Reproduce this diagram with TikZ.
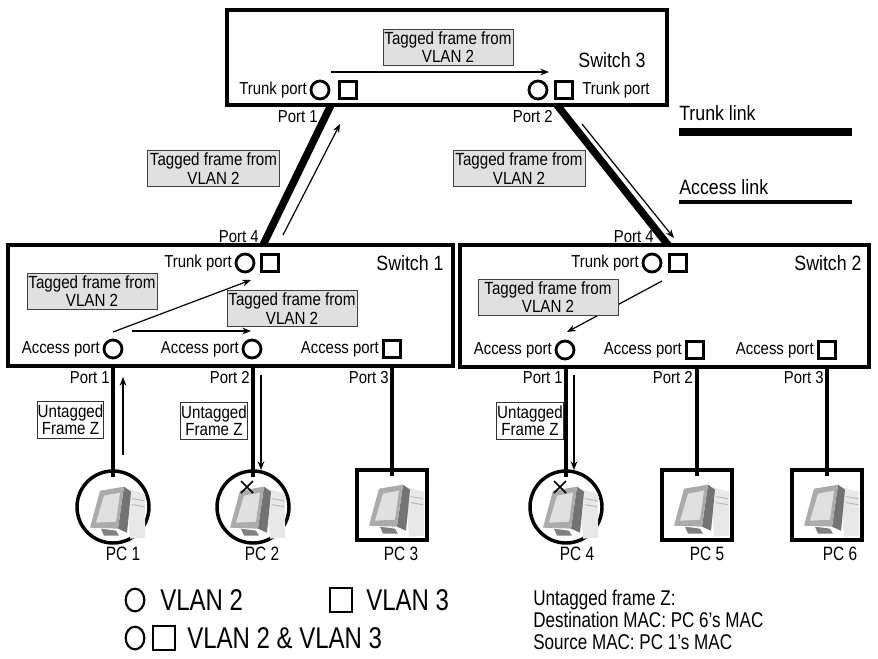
\documentclass[tikz,border=0pt]{standalone}
\usepackage{fontspec}
\setmainfont[FakeStretch=0.86]{Liberation Sans}
\newfontfamily\narrowfont[FakeStretch=0.8]{Liberation Sans}
\usetikzlibrary{arrows.meta,shapes.geometric}

\tikzset{
  swbox/.style={draw, rectangle, line width=2.5pt, inner sep=0pt},
  vtwo/.style={draw, circle, line width=2.1pt, minimum size=13.5pt, inner sep=0pt},
  vthree/.style={draw, rectangle, line width=2.1pt, minimum size=13pt, inner sep=0pt},
  lbl/.style={inner sep=0pt, font=\fontsize{13}{14}\selectfont},
  swname/.style={inner sep=0pt, font=\fontsize{15.5}{17}\selectfont},
  tagbox/.style={draw=black!75, fill=black!12, line width=0.7pt, align=center,
    minimum width=97.5pt, minimum height=27pt, inner sep=0pt,
    font=\fontsize{13.2}{13.7}\selectfont},
  untagbox/.style={draw=black!80, fill=white, line width=0.7pt, align=center,
    minimum width=50pt, minimum height=28pt, inner sep=0pt,
    font=\fontsize{13.2}{12.8}\selectfont},
  trunk/.style={line width=5.6pt},
  access/.style={line width=2.6pt},
  flow/.style={line width=0.9pt, -{Stealth[length=6.5pt,width=5pt]}},
  pcround/.style={draw, circle, line width=2.6pt, minimum size=54pt, inner sep=0pt},
  pcsquare/.style={draw, rectangle, line width=2.6pt, minimum size=52.5pt, inner sep=0pt},
  pcname/.style={inner sep=0pt, font=\narrowfont\fontsize{14.5}{16}\selectfont},
  legendfont/.style={inner sep=0pt, font=\narrowfont\fontsize{22.5}{24}\selectfont},
  pcicon/.pic={
    % tower behind the monitor
    \fill[black!9] (13,-21) -- (32,-16) -- (32,28) -- (17,29) -- cycle;
    \draw[black!28, line width=0.7pt] (19,-11) -- (31,-9) (19,-5) -- (31,-3);
    % monitor side
    \fill[black!55] (11,-23) -- (18,-18) -- (14,23) -- (5,19) -- cycle;
    % monitor bezel and screen
    \fill[black!33] (-13,-19) -- (11,-23) -- (5,19) -- (-23,18) -- cycle;
    \fill[black!12] (-9,-14) -- (7,-17) -- (3,12) -- (-17,13) -- cycle;
    % stand
    \fill[black!50] (-12,19) -- (3,21) -- (6,26) -- (-9,26) -- cycle;
  },
  xmark/.pic={
    \draw[line width=1.1pt] (-6,-6) -- (6,6) (6,-6) -- (-6,6);
  }
}

\begin{document}
\begin{tikzpicture}[x=0.75pt,y=-0.75pt]
\useasboundingbox (0,0) rectangle (878,658);

% ---------- switches ----------
\node[swbox, minimum width=330pt, minimum height=71.25pt] (sw3) at (447,57.5) {};
\node[swbox, minimum width=333.75pt, minimum height=90.75pt] (sw1) at (230.5,305.5) {};
\node[swbox, minimum width=306.75pt, minimum height=91.5pt] (sw2) at (664.5,306) {};

\node[swname] (sw3name) at (612,60) {Switch 3};
\node[swname] (sw1name) at (410,263) {Switch 1};
\node[swname] (sw2name) at (828,263) {Switch 2};

% ---------- switch 3 ports ----------
\node[vtwo]   (s3c1) at (320,90) {};
\node[vthree] (s3s1) at (348,90) {};
\node[vtwo]   (s3c2) at (538,90) {};
\node[vthree] (s3s2) at (564,90) {};
\node[lbl, anchor=east] (s3tp1) at (307,90) {Trunk port};
\node[lbl, anchor=west] (s3tp2) at (582,90) {Trunk port};
\node[lbl, anchor=east] (s3p1) at (318,117) {Port 1};
\node[lbl, anchor=east] (s3p2) at (553,117) {Port 2};

\coordinate (s3a) at (331,72);
\coordinate (s3b) at (549,72);
\draw[flow] (s3a) -- (s3b);
\node[tagbox] (tag3) at (448,47) {Tagged frame from\\VLAN 2};

% ---------- switch 1 ports ----------
\node[vtwo]   (s1tc) at (245,263) {};
\node[vthree] (s1ts) at (270,263) {};
\node[lbl, anchor=east] (s1tp) at (232,263) {Trunk port};
\node[lbl, anchor=east] (s1p4) at (259,237) {Port 4};

\node[vtwo]   (s1a1) at (113,349) {};
\node[vtwo]   (s1a2) at (252,349) {};
\node[vthree] (s1a3) at (392,349) {};
\node[lbl, anchor=east] (s1al1) at (100,349) {Access port};
\node[lbl, anchor=east] (s1al2) at (239,349) {Access port};
\node[lbl, anchor=east] (s1al3) at (379,349) {Access port};

\coordinate (f1a) at (113,332);
\coordinate (f1b) at (251,280);
\coordinate (f2a) at (132,331);
\coordinate (f2b) at (251,331);
\draw[flow] (f1a) -- (f1b);
\draw[flow] (f2a) -- (f2b);
\node[tagbox] (tag1a) at (92,291) {Tagged frame from\\VLAN 2};
\node[tagbox] (tag1b) at (292,308.5) {Tagged frame from\\VLAN 2};

% ---------- switch 2 ports ----------
\node[vtwo]   (s2tc) at (652,263) {};
\node[vthree] (s2ts) at (678,263) {};
\node[lbl, anchor=east] (s2tp) at (639,263) {Trunk port};
\node[lbl, anchor=east] (s2p4) at (654,237) {Port 4};

\node[vtwo]   (s2a1) at (565,350) {};
\node[vthree] (s2a2) at (695,350) {};
\node[vthree] (s2a3) at (827,350) {};
\node[lbl, anchor=east] (s2al1) at (552,350) {Access port};
\node[lbl, anchor=east] (s2al2) at (682,350) {Access port};
\node[lbl, anchor=east] (s2al3) at (814,350) {Access port};

\coordinate (f3a) at (662,281);
\coordinate (f3b) at (567,332);
\draw[flow] (f3a) -- (f3b);
\node[tagbox, minimum width=105pt] (tag2) at (548,297) {Tagged frame from\\VLAN 2};

% ---------- trunk links ----------
\coordinate (t1top) at (331,105);
\coordinate (t1bot) at (263,245);
\coordinate (t2top) at (557,105);
\coordinate (t2bot) at (668,245);
\draw[trunk] (t1top) -- (t1bot);
\draw[trunk] (t2top) -- (t2bot);

\coordinate (ft1a) at (283,235);
\coordinate (ft1b) at (340,124);
\coordinate (ft2a) at (582,124);
\coordinate (ft2b) at (674,238);
\draw[flow] (ft1a) -- (ft1b);
\draw[flow] (ft2a) -- (ft2b);
\node[tagbox, minimum width=99pt] (tagl) at (213.5,168.5) {Tagged frame from\\VLAN 2};
\node[tagbox, minimum width=99pt] (tagr) at (519,168.5) {Tagged frame from\\VLAN 2};

% ---------- PCs ----------
\node[pcround]  (pc1) at (113,507) {};
\node[pcround]  (pc2) at (253,507) {};
\node[pcsquare] (pc3) at (392,505) {};
\node[pcround]  (pc4) at (566,507) {};
\node[pcsquare] (pc5) at (697,505) {};
\node[pcsquare] (pc6) at (827,505) {};
\foreach \p in {pc1,pc2,pc3,pc4,pc5,pc6} {
  \pic at ([yshift=-2pt]\p.center) {pcicon};
}
\pic at (247,487) {xmark};
\pic at (560,487) {xmark};

\node[pcname] (pc1n) at (123,554) {PC 1};
\node[pcname] (pc2n) at (262,554) {PC 2};
\node[pcname] (pc3n) at (401,554) {PC 3};
\node[pcname] (pc4n) at (577,554) {PC 4};
\node[pcname] (pc5n) at (707,554) {PC 5};
\node[pcname] (pc6n) at (840,554) {PC 6};

% ---------- access links ----------
\coordinate (s1b1) at (113,366);
\coordinate (s1b2) at (253,366);
\coordinate (s1b3) at (392,366);
\coordinate (s2b1) at (566,367);
\coordinate (s2b2) at (697,367);
\coordinate (s2b3) at (827,367);
\draw[access] (s1b1) -- ([yshift=-6pt]pc1.north);
\draw[access] (s1b2) -- ([yshift=-6pt]pc2.north);
\draw[access] (s1b3) -- ([yshift=-6pt]pc3.north);
\draw[access] (s2b1) -- ([yshift=-6pt]pc4.north);
\draw[access] (s2b2) -- ([yshift=-6pt]pc5.north);
\draw[access] (s2b3) -- ([yshift=-6pt]pc6.north);

\node[lbl, anchor=east] (s1d1) at (110,378) {Port 1};
\node[lbl, anchor=east] (s1d2) at (250,378) {Port 2};
\node[lbl, anchor=east] (s1d3) at (389,378) {Port 3};
\node[lbl, anchor=east] (s2d1) at (563,378) {Port 1};
\node[lbl, anchor=east] (s2d2) at (693,378) {Port 2};
\node[lbl, anchor=east] (s2d3) at (824,378) {Port 3};

\coordinate (u1a) at (123,455);
\coordinate (u1b) at (123,377);
\coordinate (u2a) at (261,375);
\coordinate (u2b) at (261,470);
\coordinate (u3a) at (574,375);
\coordinate (u3b) at (574,470);
\draw[flow] (u1a) -- (u1b);
\draw[flow] (u2a) -- (u2b);
\draw[flow] (u3a) -- (u3b);

\node[untagbox] (ut1) at (70.5,420) {Untagged\\Frame Z};
\node[untagbox] (ut2) at (214,421) {Untagged\\Frame Z};
\node[untagbox] (ut3) at (530,421) {Untagged\\Frame Z};

% ---------- link legend ----------
\node[swname, anchor=west] (trunkname) at (679,113) {Trunk link};
\coordinate (tl1) at (679,132);
\coordinate (tl2) at (852,132);
\draw[trunk, line width=5.4pt] (tl1) -- (tl2);
\node[swname, anchor=west] (accname) at (679,187) {Access link};
\coordinate (al1) at (679,202);
\coordinate (al2) at (852,202);
\draw[access] (al1) -- (al2);

% ---------- VLAN legend ----------
\node[draw, ellipse, line width=1.6pt, minimum width=14pt, minimum height=17pt, inner sep=0pt] (lc1) at (135,600) {};
\node[legendfont, anchor=west] (lv2) at (160,600) {VLAN 2};
\node[draw, rectangle, line width=1.6pt, minimum width=16pt, minimum height=18.5pt, inner sep=0pt] (ls1) at (341,600) {};
\node[legendfont, anchor=west] (lv3) at (366,600) {VLAN 3};
\node[draw, ellipse, line width=1.6pt, minimum width=14pt, minimum height=17pt, inner sep=0pt] (lc2) at (135,638) {};
\node[draw, rectangle, line width=1.6pt, minimum width=16pt, minimum height=18.5pt, inner sep=0pt] (ls2) at (164,638) {};
\node[legendfont, anchor=west] (lv23) at (187,638) {VLAN 2 \& VLAN 3};

\node[inner sep=0pt, anchor=west, align=left, font=\narrowfont\fontsize{16}{16.5}\selectfont] (frameinfo) at (533,620)
  {Untagged frame Z:\\Destination MAC: PC 6’s MAC\\Source MAC: PC 1’s MAC};
\end{tikzpicture}
\end{document}
